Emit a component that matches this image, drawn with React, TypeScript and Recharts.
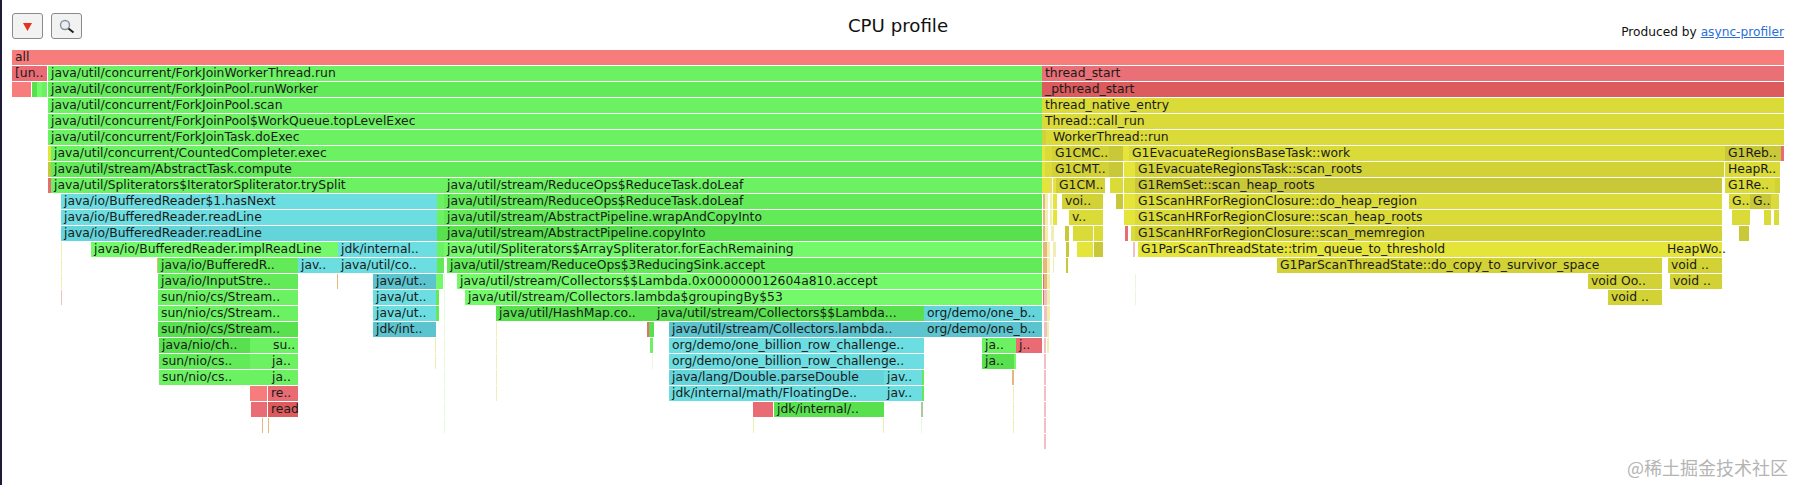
import { Bar, BarChart, XAxis, YAxis } from "recharts"

type Frame = [number, number, string, string?]

// sample offsets [from, to], frame kind, name - one list per stack depth
const depth0: Frame[] = [[12, 1784, "redA", "all"]]
const depth1: Frame[] = [
  [12, 47, "redB", "[un.."],
  [48, 1042, "green", "java/util/concurrent/ForkJoinWorkerThread.run"],
  [1042, 1784, "redC", "thread_start"],
]
const depth2: Frame[] = [
  [12, 31, "redA"],
  [32, 37, "greenD"],
  [37, 42, "greenL"],
  [42, 47, "green"],
  [48, 1042, "greenM", "java/util/concurrent/ForkJoinPool.runWorker"],
  [1042, 1784, "redD", "_pthread_start"],
]
const depth3: Frame[] = [
  [48, 1042, "green", "java/util/concurrent/ForkJoinPool.scan"],
  [1042, 1784, "yellow", "thread_native_entry"],
]
const depth4: Frame[] = [
  [48, 1042, "green", "java/util/concurrent/ForkJoinPool$WorkQueue.topLevelExec"],
  [1042, 1784, "yellow", "Thread::call_run"],
]
const depth5: Frame[] = [
  [48, 1042, "green", "java/util/concurrent/ForkJoinTask.doExec"],
  [1042, 1046, "yellowM"],
  [1046, 1050, "yellow"],
  [1050, 1784, "yellow", "WorkerThread::run"],
]
const depth6: Frame[] = [
  [48, 51, "yellowL"],
  [51, 1042, "green", "java/util/concurrent/CountedCompleter.exec"],
  [1042, 1045, "yellowL"],
  [1045, 1052, "yellow"],
  [1052, 1109, "yellowM", "G1CMC.."],
  [1109, 1123, "yellowD"],
  [1123, 1129, "yellowL"],
  [1129, 1725, "yellow", "G1EvacuateRegionsBaseTask::work"],
  [1725, 1781, "yellowD", "G1Reb.."],
  [1781, 1784, "redB"],
]
const depth7: Frame[] = [
  [48, 51, "yellowD"],
  [51, 1042, "greenM", "java/util/stream/AbstractTask.compute"],
  [1042, 1045, "yellowL"],
  [1045, 1052, "yellow"],
  [1052, 1109, "yellowM", "G1CMT.."],
  [1109, 1123, "yellowD"],
  [1124, 1135, "yellowL"],
  [1135, 1724, "yellowM", "G1EvacuateRegionsTask::scan_roots"],
  [1725, 1780, "yellow", "HeapR.."],
]
const depth8: Frame[] = [
  [48, 51, "redB"],
  [51, 444, "green", "java/util/Spliterators$IteratorSpliterator.trySplit"],
  [444, 1042, "green", "java/util/stream/ReduceOps$ReduceTask.doLeaf"],
  [1042, 1051, "yellowL"],
  [1051, 1052, "pink"],
  [1053, 1056, "yellowL"],
  [1056, 1105, "yellowM", "G1CM.."],
  [1110, 1123, "yellow"],
  [1124, 1135, "yellow"],
  [1135, 1722, "yellowD", "G1RemSet::scan_heap_roots"],
  [1725, 1775, "yellow", "G1Re.."],
  [1775, 1780, "yellowM"],
]
const depth9: Frame[] = [
  [61, 437, "cyan", "java/io/BufferedReader$1.hasNext"],
  [437, 444, "green"],
  [444, 1042, "greenM", "java/util/stream/ReduceOps$ReduceTask.doLeaf"],
  [1043, 1045, "tan"],
  [1045, 1048, "paleYellow"],
  [1050, 1052, "paleYellow"],
  [1053, 1057, "yellowL"],
  [1062, 1103, "yellowM", "voi.."],
  [1116, 1123, "yellowD"],
  [1124, 1135, "yellowL"],
  [1135, 1722, "yellow", "G1ScanHRForRegionClosure::do_heap_region"],
  [1729, 1750, "yellow", "G.."],
  [1750, 1771, "yellowD", "G.."],
  [1771, 1779, "yellow"],
]
const depth10: Frame[] = [
  [61, 437, "cyan", "java/io/BufferedReader.readLine"],
  [437, 444, "green"],
  [444, 1042, "greenM", "java/util/stream/AbstractPipeline.wrapAndCopyInto"],
  [1043, 1045, "tan"],
  [1045, 1048, "paleYellow"],
  [1050, 1052, "paleYellow"],
  [1053, 1057, "yellowL"],
  [1069, 1103, "yellow", "v.."],
  [1124, 1135, "yellowL"],
  [1135, 1722, "yellow", "G1ScanHRForRegionClosure::scan_heap_roots"],
  [1732, 1750, "yellow"],
  [1764, 1771, "yellow"],
  [1774, 1779, "yellow"],
]
const depth11: Frame[] = [
  [61, 437, "cyanM", "java/io/BufferedReader.readLine"],
  [437, 444, "greenD"],
  [444, 1042, "greenD", "java/util/stream/AbstractPipeline.copyInto"],
  [1043, 1045, "tan"],
  [1045, 1048, "paleYellow"],
  [1051, 1054, "paleYellow"],
  [1065, 1069, "yellowD"],
  [1073, 1093, "yellow"],
  [1094, 1103, "yellow"],
  [1125, 1128, "redB"],
  [1131, 1135, "yellow"],
  [1135, 1722, "yellowM", "G1ScanHRForRegionClosure::scan_memregion"],
  [1739, 1749, "yellowD"],
]
const depth12: Frame[] = [
  [61, 62, "paleYellow"],
  [91, 338, "greenL", "java/io/BufferedReader.implReadLine"],
  [338, 437, "cyan", "jdk/internal.."],
  [437, 444, "green"],
  [444, 1042, "greenL", "java/util/Spliterators$ArraySpliterator.forEachRemaining"],
  [1043, 1047, "tan"],
  [1047, 1050, "paleYellow"],
  [1053, 1056, "paleYellow"],
  [1066, 1069, "yellowD"],
  [1077, 1093, "yellowL"],
  [1094, 1103, "yellowD"],
  [1133, 1135, "pink"],
  [1138, 1664, "yellowL", "G1ParScanThreadState::trim_queue_to_threshold"],
  [1664, 1722, "yellowL", "HeapWo.."],
]
const depth13: Frame[] = [
  [61, 62, "paleYellow"],
  [157, 158, "tan"],
  [158, 298, "greenM", "java/io/BufferedR.."],
  [298, 338, "cyan", "jav.."],
  [338, 437, "cyan", "java/util/co.."],
  [437, 444, "greenM"],
  [447, 1042, "greenM", "java/util/stream/ReduceOps$3ReducingSink.accept"],
  [1043, 1047, "tan"],
  [1047, 1050, "paleYellow"],
  [1053, 1054, "paleYellow"],
  [1066, 1068, "yellowD"],
  [1277, 1662, "yellowM", "G1ParScanThreadState::do_copy_to_survivor_space"],
  [1668, 1722, "yellowM", "void .."],
]
const depth14: Frame[] = [
  [61, 62, "paleYellow"],
  [158, 298, "greenM", "java/io/InputStre.."],
  [337, 338, "tan"],
  [373, 436, "cyanD", "java/ut.."],
  [436, 443, "greenL"],
  [444, 445, "paleGreen"],
  [457, 1042, "greenL", "java/util/stream/Collectors$$Lambda.0x000000012604a810.accept"],
  [1043, 1044, "redB"],
  [1044, 1047, "tan"],
  [1047, 1050, "paleYellow"],
  [1135, 1136, "paleGreen"],
  [1588, 1662, "yellowM", "void Oo.."],
  [1670, 1722, "yellowM", "void .."],
]
const depth15: Frame[] = [
  [61, 62, "pink"],
  [158, 298, "green", "sun/nio/cs/Stream.."],
  [373, 436, "cyan", "java/ut.."],
  [436, 439, "greenM"],
  [444, 445, "paleGreen"],
  [465, 1042, "greenL", "java/util/stream/Collectors.lambda$groupingBy$53"],
  [1043, 1044, "redB"],
  [1044, 1047, "pink"],
  [1047, 1050, "paleYellow"],
  [1135, 1136, "paleGreen"],
  [1608, 1662, "yellowM", "void .."],
]
const depth16: Frame[] = [
  [158, 298, "green", "sun/nio/cs/Stream.."],
  [373, 436, "cyan", "java/ut.."],
  [436, 439, "greenM"],
  [444, 445, "paleGreen"],
  [496, 654, "greenD", "java/util/HashMap.co.."],
  [654, 924, "greenD", "java/util/stream/Collectors$$Lambda..."],
  [924, 1042, "cyanM", "org/demo/one_b.."],
  [1044, 1047, "pink"],
  [1047, 1050, "paleYellow"],
]
const depth17: Frame[] = [
  [158, 298, "greenD", "sun/nio/cs/Stream.."],
  [373, 436, "cyanD", "jdk/int.."],
  [444, 445, "paleGreen"],
  [496, 497, "paleYellow"],
  [647, 649, "redB"],
  [649, 654, "greenD"],
  [669, 924, "cyanD", "java/util/stream/Collectors.lambda.."],
  [924, 1042, "cyanD", "org/demo/one_b.."],
  [1044, 1047, "pink"],
  [1047, 1049, "paleYellow"],
]
const depth18: Frame[] = [
  [159, 250, "greenD", "java/nio/ch.."],
  [250, 270, "green"],
  [270, 298, "green", "su.."],
  [435, 436, "paleYellow"],
  [444, 445, "paleGreen"],
  [496, 497, "paleYellow"],
  [650, 653, "green"],
  [669, 924, "cyan", "org/demo/one_billion_row_challenge.."],
  [982, 1016, "green", "ja.."],
  [1016, 1042, "redB", "j.."],
  [1044, 1046, "pink"],
  [1047, 1049, "paleYellow"],
]
const depth19: Frame[] = [
  [159, 250, "greenM", "sun/nio/cs.."],
  [250, 269, "green"],
  [269, 298, "green", "ja.."],
  [435, 436, "paleYellow"],
  [444, 445, "paleGreen"],
  [496, 497, "paleYellow"],
  [652, 653, "paleGreen"],
  [669, 924, "cyan", "org/demo/one_billion_row_challenge.."],
  [982, 1014, "greenD", "ja.."],
  [1014, 1016, "greenL"],
  [1044, 1046, "pink"],
]
const depth20: Frame[] = [
  [159, 250, "green", "sun/nio/cs.."],
  [250, 269, "green"],
  [269, 298, "green", "ja.."],
  [444, 445, "paleGreen"],
  [496, 497, "paleYellow"],
  [669, 884, "cyanM", "java/lang/Double.parseDouble"],
  [884, 922, "cyan", "jav.."],
  [922, 924, "greenM"],
  [1012, 1014, "tan"],
  [1044, 1046, "pink"],
]
const depth21: Frame[] = [
  [250, 267, "redA"],
  [268, 298, "redB", "re.."],
  [444, 445, "paleGreen"],
  [496, 497, "paleYellow"],
  [669, 884, "cyan", "jdk/internal/math/FloatingDe.."],
  [884, 922, "cyan", "jav.."],
  [922, 924, "greenM"],
  [1013, 1014, "paleYellow"],
  [1044, 1046, "pink"],
]
const depth22: Frame[] = [
  [251, 267, "redB"],
  [268, 298, "redD", "read"],
  [444, 445, "paleGreen"],
  [753, 773, "redB"],
  [774, 884, "greenD", "jdk/internal/.."],
  [921, 923, "grey"],
  [1013, 1014, "paleYellow"],
  [1044, 1046, "pink"],
]
const depth23: Frame[] = [
  [262, 263, "tan"],
  [268, 269, "tan"],
  [444, 445, "paleGreen"],
  [753, 754, "paleYellow"],
  [883, 884, "paleYellow"],
  [921, 922, "paleGreen"],
  [1013, 1014, "paleYellow"],
  [1044, 1046, "pink"],
]
const depth24: Frame[] = [[1044, 1046, "pink"]]

const depths = [
  depth0, depth1, depth2, depth3, depth4, depth5, depth6, depth7, depth8, depth9, depth10, depth11, depth12,
  depth13, depth14, depth15, depth16, depth17, depth18, depth19, depth20, depth21, depth22, depth23, depth24,
]

const colors: Record<string, string> = {
  redA: "#f77c7c",
  redB: "#e96c74",
  redC: "#ea7078",
  redD: "#dc5c5e",
  green: "#6cf162",
  greenL: "#74f96a",
  greenM: "#63ea59",
  greenD: "#59e04f",
  cyan: "#6cdde0",
  cyanM: "#62d4da",
  cyanD: "#5cc4ce",
  yellow: "#dada38",
  yellowL: "#e4e43a",
  yellowM: "#d2d236",
  yellowD: "#c8c838",
  tan: "#e4b878",
  pink: "#f0c0c4",
  paleYellow: "#f0eeb0",
  paleGreen: "#e6f8de",
  grey: "#a8c8a0",
}

const slotCount = Math.max(...depths.map((d) => d.length))
const slots = Array.from({ length: slotCount }, (_, k) => k)

// each depth becomes one stacked row: gap, frame, gap, frame ...
const data = depths.map((frames, depth) => {
  const row: any = { name: `d${depth}`, frames }
  let pos = 0
  frames.forEach(([from, to], k) => {
    row[`gap${k}`] = from - pos
    row[`len${k}`] = to - from
    pos = to
  })
  return row
})

function FrameBar(props: any) {
  const { x, y, width, height, payload, slot } = props
  const frame: Frame | undefined = payload.frames[slot]
  if (!frame || !width) return null
  return (
    <g>
      <rect x={x} y={y} width={width} height={height} fill={colors[frame[2]]} />
      {frame[3] && (
        <text x={x + 3} y={y + 11} fontSize={12.35} fontFamily="DejaVu Sans" fill="#1a1a1a">
          {frame[3]}
        </text>
      )}
    </g>
  )
}

export default function App() {
  return (
    <div style={{ position: "absolute", left: 0, top: 0, width: 1793, height: 485, background: "#fff", overflow: "hidden", fontFamily: "DejaVu Sans" }}>
      <div style={{ position: "absolute", left: 0, top: 0, width: 2, height: 485, background: "#1c1c3a" }} />
      <svg width={90} height={45} style={{ position: "absolute", left: 0, top: 0 }}>
        <rect x={12.5} y={13.5} width={30} height={25} rx={2.5} fill="#f2f2f2" stroke="#8a8a8a" />
        <rect x={51.5} y={13.5} width={30} height={25} rx={2.5} fill="#f2f2f2" stroke="#8a8a8a" />
        <path d="M23 23h9l-4.5 8z" fill="#e8301e" />
        <circle cx={65} cy={25} r={4.5} fill="#e8eef4" stroke="#8a8f96" strokeWidth={1.4} />
        <path d="M68.5 28.5l5 4" stroke="#222" strokeWidth={2} />
      </svg>
      <div style={{ position: "absolute", left: 698, width: 400, top: 15, textAlign: "center", fontSize: 18.2, lineHeight: "22px", color: "#111" }}>CPU profile</div>
      <div style={{ position: "absolute", right: 9, top: 24, fontSize: 12.2, lineHeight: "16px", color: "#111", whiteSpace: "nowrap" }}>
        Produced by <span style={{ color: "#2a6fd6", textDecoration: "underline" }}>async-profiler</span>
      </div>
      <BarChart
        width={1793}
        height={485}
        data={data}
        layout="vertical"
        barSize={15}
        barGap={0}
        margin={{ top: 49, right: 9, bottom: 36, left: 12 }}
        style={{ position: "absolute", left: 0, top: 0 }}
      >
        <XAxis type="number" domain={[12, 1784]} hide allowDataOverflow />
        <YAxis type="category" dataKey="name" hide />
        {slots.flatMap((k) => [
          <Bar key={`gap${k}`} dataKey={`gap${k}`} stackId="f" fill="none" isAnimationActive={false} />,
          <Bar key={`len${k}`} dataKey={`len${k}`} stackId="f" isAnimationActive={false} shape={(p: any) => <FrameBar {...p} slot={k} />} />,
        ])}
      </BarChart>
      <div style={{ position: "absolute", left: 1627, top: 455, fontFamily: "Noto Sans CJK SC", fontSize: 18, lineHeight: "24px", color: "#b4b4b4", whiteSpace: "nowrap" }}>@稀土掘金技术社区</div>
    </div>
  )
}
